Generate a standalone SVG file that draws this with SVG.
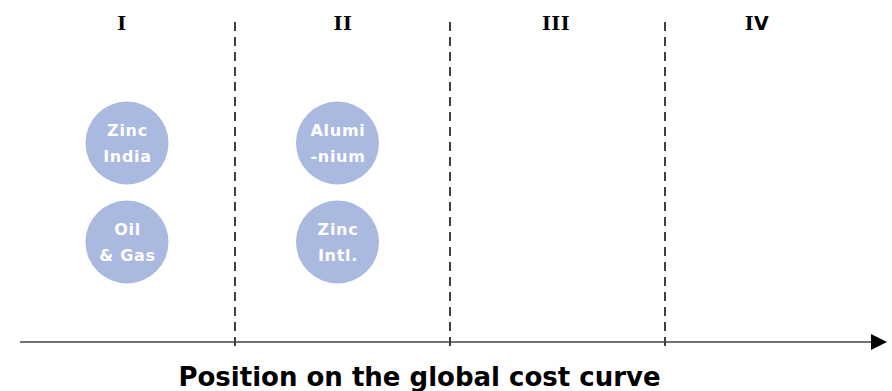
<svg xmlns="http://www.w3.org/2000/svg" width="892" height="391" viewBox="0 0 892 391">
<style>
.hdr{font-family:"DejaVu Serif","Liberation Serif",serif;font-weight:bold;font-size:19px;fill:#000;text-anchor:middle;letter-spacing:0.5px}
.sans{font-family:"DejaVu Sans",Verdana,sans-serif}
.lbl{font-family:"DejaVu Sans",Verdana,sans-serif;font-weight:bold;font-size:16px;fill:#fff;text-anchor:middle;letter-spacing:0.7px}
.ax{font-family:"DejaVu Sans",Verdana,sans-serif;font-weight:bold;font-size:26px;fill:#000;text-anchor:middle}
.bub{fill:#a9b9df}
.dash{stroke:#000;stroke-width:1.5;stroke-dasharray:9,6;fill:none}
</style>
<rect width="892" height="391" fill="#fff"/>
<g id="headers">
<text class="hdr" x="122" y="30">I</text>
<text class="hdr" x="343" y="30">II</text>
<text class="hdr" x="556" y="30">III</text>
<text class="hdr" x="757" y="30">I<tspan class="sans">V</tspan></text>
</g>
<g id="connectors">
<line class="dash" x1="235" y1="22" x2="235" y2="346"/>
<line class="dash" x1="450" y1="22" x2="450" y2="346"/>
<line class="dash" x1="665" y1="22" x2="665" y2="346"/>
<path d="M20,342 L872,342" stroke="#444" stroke-width="1.5" fill="none"/>
<path d="M871,334 L887,342 L871,350 Z" fill="#000"/>
</g>
<g id="zinc-india">
<circle class="bub" cx="127" cy="143" r="41.5"/>
<text class="lbl" x="127.5" y="136">Zinc</text>
<text class="lbl" x="127.5" y="162">India</text>
</g>
<g id="oil-gas">
<circle class="bub" cx="127" cy="242" r="41.5"/>
<text class="lbl" x="127.5" y="235">Oil</text>
<text class="lbl" x="127.5" y="261">&amp; Gas</text>
</g>
<g id="aluminium">
<circle class="bub" cx="337.5" cy="143" r="41.5"/>
<text class="lbl" x="338" y="136">Alumi</text>
<text class="lbl" x="338" y="162">-nium</text>
</g>
<g id="zinc-intl">
<circle class="bub" cx="337.5" cy="242" r="41.5"/>
<text class="lbl" x="338" y="235">Zinc</text>
<text class="lbl" x="338" y="261">Intl.</text>
</g>
<text class="ax" x="419.5" y="386">Position on the global cost curve</text>
</svg>
